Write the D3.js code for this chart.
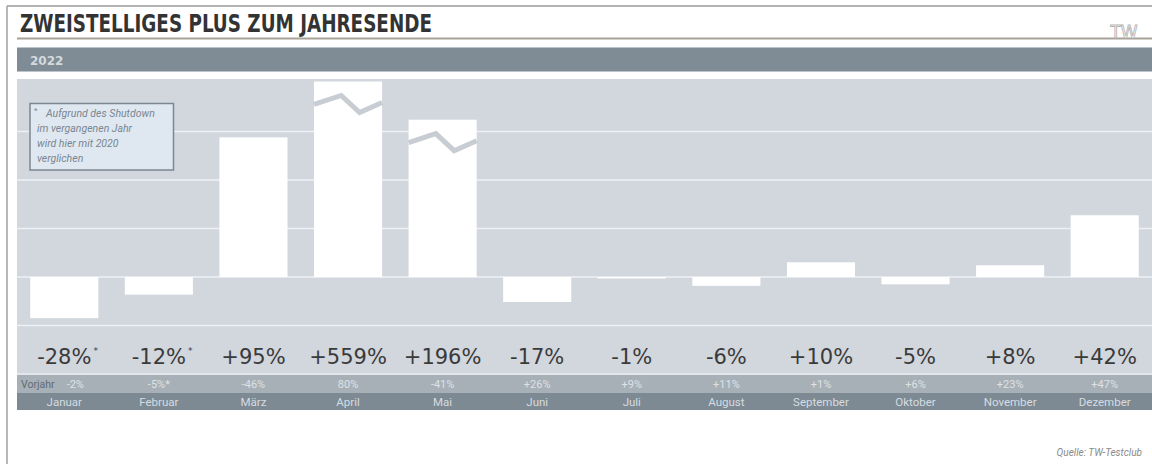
<!DOCTYPE html>
<html><head><meta charset="utf-8">
<script src="https://cdn.jsdelivr.net/npm/d3@7"></script>
<style>html,body{margin:0;padding:0;background:#fff;}svg{display:block;}</style>
</head><body>
<svg id="c" width="1152" height="464"></svg>
<script>
const months = ["Januar","Februar","März","April","Mai","Juni","Juli","August","September","Oktober","November","Dezember"];
const change2022 = [-28,-12,95,559,196,-17,-1,-6,10,-5,8,42];
const changeLabels = ["-28%","-12%","+95%","+559%","+196%","-17%","-1%","-6%","+10%","-5%","+8%","+42%"];
const changeStar = [true,true,false,false,false,false,false,false,false,false,false,false];
const vorjahrLabels = ["-2%","-5%*","-46%","80%","-41%","+26%","+9%","+11%","+1%","+6%","+23%","+47%"];
// bars cut by an axis break: value shown on the scale (null = no break)
const breakShown = [null,null,null,133,107,null,null,null,null,null,null,null];
const gridTicks = [-33,0,33,66,99];
const noteLines = ["Aufgrund des Shutdown","im vergangenen Jahr","wird hier mit 2020","verglichen"];

const svg = d3.select("#c");
const W = 1152;
const data = months.map((m,i)=>({m, v:change2022[i], lab:changeLabels[i], star:changeStar[i], vj:vorjahrLabels[i], cap:breakShown[i]}));

const x = d3.scaleBand().domain(months).range([17, W]).paddingInner(0.28).paddingOuter(0.14);
const y = d3.scaleLinear().domain([0,100]).range([277, 130]);

// frame
svg.append("line").attr("x1",7).attr("x2",W).attr("y1",6).attr("y2",6).attr("stroke","#9a9a9a").attr("stroke-width",1.5);
svg.append("line").attr("x1",7).attr("x2",7).attr("y1",6).attr("y2",464).attr("stroke","#a0a0a0").attr("stroke-width",1.5);

// title
svg.append("text").attr("x",20).attr("y",32).text("ZWEISTELLIGES PLUS ZUM JAHRESENDE")
  .attr("font-family","'DejaVu Sans Condensed','DejaVu Sans',sans-serif").attr("font-weight","bold")
  .attr("font-size",24.5).attr("fill","#333333").attr("textLength",412).attr("lengthAdjust","spacingAndGlyphs");
svg.append("line").attr("x1",17).attr("x2",W).attr("y1",38.5).attr("y2",38.5).attr("stroke","#a8a299").attr("stroke-width",2);
svg.append("text").attr("x",1124).attr("y",38).attr("text-anchor","middle").text("TW")
  .attr("font-family","'DejaVu Sans',sans-serif").attr("font-size",17).attr("fill","#fff").attr("stroke","#b5b5b5").attr("stroke-width",0.9);

// year band
svg.append("rect").attr("x",17).attr("y",47.5).attr("width",W-17).attr("height",24).attr("fill","#7f8c95");
svg.append("text").attr("x",30).attr("y",65).text("2022").attr("font-family","'DejaVu Sans',sans-serif")
  .attr("font-weight","bold").attr("font-size",12).attr("fill","#d3dade");

// plot background (extends behind value labels)
svg.append("rect").attr("x",17).attr("y",79).attr("width",W-17).attr("height",296).attr("fill","#d2d6dd");

// gridlines
svg.append("g").selectAll("line").data(gridTicks).join("line")
  .attr("x1",17).attr("x2",W).attr("y1",d=>y(d)).attr("y2",d=>y(d))
  .attr("stroke","#eef0f3").attr("stroke-width",1.6);

// bars
const shown = d => d.cap!==null ? d.cap : d.v;
svg.append("g").selectAll("rect").data(data).join("rect")
  .attr("x",d=>x(d.m)).attr("width",x.bandwidth())
  .attr("y",d=>y(Math.max(0,shown(d)))).attr("height",d=>Math.abs(y(shown(d))-y(0)))
  .attr("fill","#ffffff");

// break zigzags
const zig = [[0,23],[0.4,14],[0.67,31],[1,21]];
svg.append("g").selectAll("path").data(data.filter(d=>d.cap!==null)).join("path")
  .attr("d",d=>d3.line()(zig.map(([fx,dy])=>[x(d.m)+fx*x.bandwidth(), y(d.cap)+dy])))
  .attr("fill","none").attr("stroke","#c8ccd3").attr("stroke-width",5).attr("stroke-linejoin","miter");

// note box
svg.append("rect").attr("x",30).attr("y",103.5).attr("width",143.5).attr("height",66.5)
  .attr("fill","#dfe8f1").attr("stroke","#7c8791").attr("stroke-width",1.5);
svg.append("text").attr("x",34).attr("y",113).text("*").attr("font-family","Roboto,sans-serif").attr("font-size",8).attr("fill","#7a8590");
svg.append("g").selectAll("text").data(noteLines).join("text")
  .attr("x",(d,i)=>i===0?46:37).attr("y",(d,i)=>117+i*15)
  .text(d=>d).attr("font-family","Roboto,sans-serif").attr("font-style","italic")
  .attr("font-size",10.5).attr("fill","#7a8590");

// value labels
const vl = svg.append("g").selectAll("g").data(data).join("g");
vl.append("text").attr("x",d=>x(d.m)+x.bandwidth()/2).attr("y",364).attr("text-anchor","middle")
  .text(d=>d.lab).attr("font-family","'DejaVu Sans',sans-serif").attr("font-size",21).attr("fill","#3a3a3a")
  .each(function(d){ d.tw = this.getComputedTextLength(); });
vl.filter(d=>d.star).append("text").attr("x",d=>x(d.m)+x.bandwidth()/2+d.tw/2+2).attr("y",354)
  .text("*").attr("font-family","'DejaVu Sans',sans-serif").attr("font-size",9).attr("fill","#3a3a3a");

// Vorjahr row
svg.append("rect").attr("x",17).attr("y",375).attr("width",W-17).attr("height",18).attr("fill","#a8b0b7");
svg.append("line").attr("x1",17).attr("x2",W).attr("y1",374).attr("y2",374).attr("stroke","#e9ecef").attr("stroke-width",1.5);
svg.append("text").attr("x",21).attr("y",388).text("Vorjahr").attr("font-family","Roboto,sans-serif")
  .attr("font-size",10.5).attr("fill","#5e6a73");
svg.append("g").selectAll("text").data(data).join("text")
  .attr("x",(d,i)=>x(d.m)+x.bandwidth()/2+(i===0?11:0)).attr("y",388).attr("text-anchor","middle")
  .text(d=>d.vj).attr("font-family","Roboto,sans-serif").attr("font-size",11).attr("fill","#dde2e6");

// month row
svg.append("rect").attr("x",17).attr("y",393).attr("width",W-17).attr("height",17).attr("fill","#7d8a93");
svg.append("g").selectAll("text").data(months).join("text")
  .attr("x",d=>x(d)+x.bandwidth()/2).attr("y",406).attr("text-anchor","middle")
  .text(d=>d).attr("font-family","Roboto,sans-serif").attr("font-size",11.5).attr("fill","#d6dce1");

// source
svg.append("text").attr("x",1142).attr("y",456).attr("text-anchor","end").text("Quelle: TW-Testclub")
  .attr("font-family","Roboto,sans-serif").attr("font-style","italic").attr("font-size",10).attr("fill","#8a8a8a");
</script>
</body></html>
